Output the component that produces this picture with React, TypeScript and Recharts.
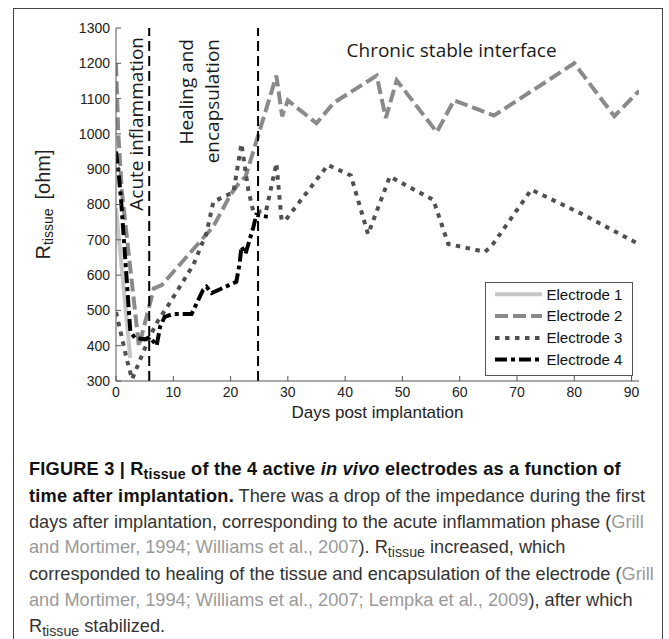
import React from 'react';
import { LineChart, Line, XAxis, YAxis, ReferenceLine, Legend, Label } from 'recharts';

// ---- data ----
const xTicks = [0, 10, 20, 30, 40, 50, 60, 70, 80, 90];
const yTicks = [300, 400, 500, 600, 700, 800, 900, 1000, 1100, 1200, 1300];

const e1Days = [0, 2.5];
const e1Vals = [790, 365];

const e2Days = [0, 0.4, 1, 4, 6.6, 8, 17, 20, 21.8, 22.6, 28, 29, 30, 35, 38, 45.5, 47.1, 49, 56, 59, 66, 80, 87, 91.3];
const e2Vals = [1200, 1000, 840, 398, 562, 572, 738, 828, 868, 878, 1165, 1050, 1095, 1030, 1088, 1165, 1045, 1152, 1005, 1095, 1052, 1200, 1050, 1122];

const e3Days = [0, 1, 1.9, 2.8, 5.9, 7.4, 8.8, 13.5, 15.8, 17, 20.5, 21.9, 23.1, 24, 26.2, 28, 28.9, 29.6, 37, 41, 44, 47.8, 55.4, 58, 64.4, 65.6, 72.5, 81.5, 91];
const e3Vals = [495, 425, 360, 305, 426, 473, 506, 629, 719, 808, 835, 972, 841, 778, 782, 917, 756, 756, 912, 882, 716, 879, 813, 688, 666, 683, 842, 772, 690];

const e4Days = [0, 0.5, 0.9, 1.9, 2.5, 3.3, 5.1, 5.9, 7.1, 7.7, 8.5, 10, 13.2, 15.2, 15.8, 16.7, 21, 21.6, 21.9, 22.6, 24, 24.5, 26.5];
const e4Vals = [950, 880, 810, 580, 440, 422, 418, 425, 400, 454, 482, 490, 490, 558, 567, 549, 581, 634, 681, 660, 737, 771, 765];

const seriesNames = ['Electrode 1', 'Electrode 2', 'Electrode 3', 'Electrode 4'];
const phaseBounds = [5.8, 24.8];
const phaseNames = ['Acute inflammation', 'Healing and', 'encapsulation', 'Chronic stable interface'];

const zip = (d: number[], v: number[]) => d.map((x, i) => ({ d: x, v: v[i] }));

const styles = [
  { color: '#c6c6c6', dash: undefined as string | undefined },
  { color: '#8a8a8a', dash: '13 5' },
  { color: '#505050', dash: '4.5 5.5' },
  { color: '#000000', dash: '12 4 4 4' },
];

const series = [
  zip(e1Days, e1Vals),
  zip(e2Days, e2Vals),
  zip(e3Days, e3Vals),
  zip(e4Days, e4Vals),
];

const annFont = '"Open Sans", sans-serif';
const axFont = '"Liberation Sans", Arial, sans-serif';

const AcuteLabel = (props: any) => {
  const vb = props.viewBox || props;
  const x = vb.x - 6;
  const y = vb.y + 9;
  return (
    <text x={x} y={y} transform={`rotate(-90 ${x} ${y})`} textAnchor="end" fontSize={19} fontFamily={annFont} fill="#1a1a1a">
      {phaseNames[0]}
    </text>
  );
};

const HealingLabel = (props: any) => {
  const vb = props.viewBox || props;
  const x1 = vb.x - 65;
  const x2 = vb.x - 39;
  const y = vb.y + 11;
  const x3 = vb.x + 193.5;
  const y3 = vb.y + 28.5;
  return (
    <g>
      <text x={x1} y={y} transform={`rotate(-90 ${x1} ${y})`} textAnchor="end" fontSize={19} fontFamily={annFont} fill="#1a1a1a">
        {phaseNames[1]}
      </text>
      <text x={x2} y={y} transform={`rotate(-90 ${x2} ${y})`} textAnchor="end" fontSize={19} fontFamily={annFont} fill="#1a1a1a">
        {phaseNames[2]}
      </text>
      <text x={x3} y={y3} textAnchor="middle" fontSize={19} fontFamily={annFont} fill="#1a1a1a">
        {phaseNames[3]}
      </text>
    </g>
  );
};

const YLabel = (props: any) => {
  const vb = props.viewBox || {};
  const x = 50;
  const y = vb.y + vb.height / 2;
  return (
    <text x={x} y={y} transform={`rotate(-90 ${x} ${y})`} textAnchor="middle" fontSize={20} fontFamily={axFont} fill="#222">
      <tspan>R</tspan>
      <tspan fontSize={14} dy={3}>tissue</tspan>
      <tspan dy={-3} dx={9}>[ohm]</tspan>
    </text>
  );
};

const LegendBox = () => {
  const rows = [12.3, 34, 56, 77.6];
  return (
    <svg width={148} height={94} style={{ display: 'block' }}>
      <rect x={0.5} y={0.5} width={147} height={93} fill="#fff" stroke="#555" strokeWidth={1} />
      {seriesNames.map((n, i) => (
        <g key={n}>
          <line x1={10} x2={57} y1={rows[i]} y2={rows[i]} stroke={styles[i].color} strokeWidth={4} strokeDasharray={styles[i].dash} />
          <text x={61.5} y={rows[i]} dy="0.35em" fontSize={15} fontFamily={axFont} fill="#111">{n}</text>
        </g>
      ))}
    </svg>
  );
};

const sub = { fontSize: '0.78em', position: 'relative' as const, top: '0.28em' };
const cite = { color: '#9a9a9a' };
const bold = { color: '#111', letterSpacing: '0.2px' };

export default function App() {
  return (
    <div style={{ position: 'absolute', left: 0, top: 0, width: 669, height: 639, background: '#fff', overflow: 'hidden' }}>
      <div style={{ position: 'absolute', left: 13, top: 8, width: 650, height: 700, border: '1.5px solid #444', boxSizing: 'border-box' }} />
      <div style={{ position: 'absolute', left: 0, top: 0 }}>
        <LineChart width={669} height={430} margin={{ top: 28, right: 30, left: 56, bottom: 19 }}>
          <XAxis
            dataKey="d"
            type="number"
            domain={[0, 91.3]}
            allowDataOverflow
            ticks={xTicks}
            interval={0}
            height={30}
            tickSize={-5}
            tickMargin={11}
            axisLine={{ stroke: '#555' }}
            tickLine={{ stroke: '#555' }}
            tick={{ fill: '#222', fontSize: 14, fontFamily: axFont }}
          >
            <Label value="Days post implantation" position="bottom" offset={-5} style={{ fontSize: 17, fill: '#222', fontFamily: axFont }} />
          </XAxis>
          <XAxis
            xAxisId="top"
            orientation="top"
            dataKey="d"
            type="number"
            domain={[0, 91.3]}
            allowDataOverflow
            ticks={xTicks}
            interval={0}
            height={0}
            tickSize={-5}
            tick={false}
            axisLine={{ stroke: '#555' }}
            tickLine={{ stroke: '#555' }}
          />
          <YAxis
            type="number"
            domain={[300, 1300]}
            allowDataOverflow
            ticks={yTicks}
            interval={0}
            width={60}
            tickSize={-5}
            tickMargin={11}
            axisLine={{ stroke: '#555' }}
            tickLine={{ stroke: '#555' }}
            tick={{ fill: '#222', fontSize: 14, fontFamily: axFont }}
          >
            <Label content={<YLabel />} />
          </YAxis>
          <YAxis
            yAxisId="right"
            orientation="right"
            type="number"
            domain={[300, 1300]}
            allowDataOverflow
            ticks={yTicks}
            interval={0}
            width={0}
            tickSize={-5}
            tick={false}
            axisLine={{ stroke: '#555' }}
            tickLine={{ stroke: '#555' }}
          />
          {series.map((data, i) => (
            <Line
              key={seriesNames[i]}
              data={data}
              dataKey="v"
              name={seriesNames[i]}
              type="linear"
              stroke={styles[i].color}
              strokeWidth={4}
              strokeDasharray={styles[i].dash}
              dot={false}
              activeDot={false}
              isAnimationActive={false}
            />
          ))}
          <ReferenceLine x={phaseBounds[0]} stroke="#000" strokeWidth={2} strokeDasharray="10 5" label={<AcuteLabel />} />
          <ReferenceLine x={phaseBounds[1]} stroke="#000" strokeWidth={2} strokeDasharray="10 5" label={<HealingLabel />} />
          <Legend
            layout="horizontal"
            verticalAlign="middle"
            align="center"
            content={<LegendBox />}
            wrapperStyle={{ left: 485, top: 282, width: 148, height: 94 }}
          />
        </LineChart>
      </div>
      <div
        style={{
          position: 'absolute',
          left: 29,
          top: 457,
          fontFamily: axFont,
          fontSize: 18.2,
          lineHeight: '25.8px',
          color: '#333',
          whiteSpace: 'nowrap',
        }}
      >
        <b style={bold}>
          FIGURE 3 | R<span style={sub}>tissue</span> of the 4 active <i>in vivo</i> electrodes as a function of
        </b>
        <br />
        <b style={bold}>time after implantation.</b> There was a drop of the impedance during the first
        <br />
        days after implantation, corresponding to the acute inflammation phase (<span style={cite}>Grill</span>
        <br />
        <span style={cite}>and Mortimer, 1994; Williams et al., 2007</span>). R<span style={sub}>tissue</span> increased, which
        <br />
        corresponded to healing of the tissue and encapsulation of the electrode (<span style={cite}>Grill</span>
        <br />
        <span style={cite}>and Mortimer, 1994; Williams et al., 2007; Lempka et al., 2009</span>), after which
        <br />
        R<span style={sub}>tissue</span> stabilized.
      </div>
    </div>
  );
}
